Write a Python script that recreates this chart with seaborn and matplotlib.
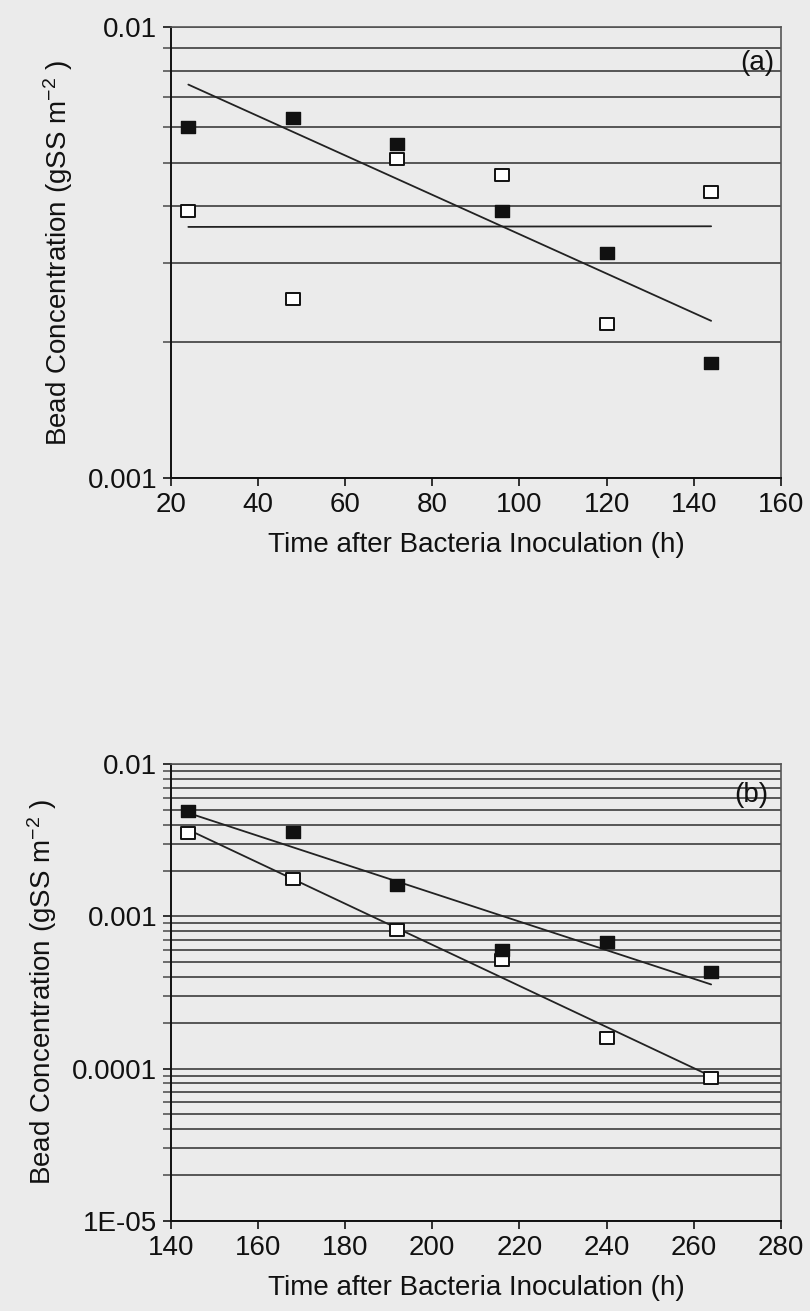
import numpy as np
import pandas as pd
import seaborn as sns
import matplotlib
matplotlib.use("Agg")
import matplotlib.pyplot as plt
from matplotlib.path import Path
from matplotlib.ticker import LogLocator, FuncFormatter, NullFormatter, MultipleLocator

# (a) first period, bead concentration on the two sides
hours_a = [24, 48, 72, 96, 120, 144]
filled_a = [0.0060, 0.0063, 0.0055, 0.0039, 0.00315, 0.0018]
open_a = [0.0039, 0.0025, 0.0051, 0.0047, 0.0022, 0.0043]

# (b) second period
hours_b = [144, 168, 192, 216, 240, 264]
filled_b = [0.0049, 0.0036, 0.0016, 0.00060, 0.00068, 0.00043]
open_b = [0.0035, 0.00175, 0.00081, 0.00052, 0.00016, 0.000087]

ytick_names = {1e-2: "0.01", 1e-3: "0.001", 1e-4: "0.0001", 1e-5: "1E-05"}

BG = "#ebebeb"
GRID = "#555555"
INK = "#111111"
TXT = 20

# the squares in the scan are a bit wider than tall
RECT = Path([(-1, -0.75), (1, -0.75), (1, 0.75), (-1, 0.75), (-1, -0.75)],
            [Path.MOVETO, Path.LINETO, Path.LINETO, Path.LINETO, Path.CLOSEPOLY])

sns.set_style("ticks")
plt.rcParams['font.family'] = ['Liberation Sans', 'DejaVu Sans']
plt.rcParams['mathtext.fontset'] = 'custom'
plt.rcParams['mathtext.rm'] = 'Liberation Sans'
plt.rcParams['mathtext.it'] = 'Liberation Sans'
plt.rcParams['text.color'] = INK
plt.rcParams['axes.labelcolor'] = INK
plt.rcParams['xtick.labelcolor'] = INK
plt.rcParams['ytick.labelcolor'] = INK


def exp_fit(hours, vals):
    """Log-linear least squares fit, evaluated over the data range."""
    slope, icpt = np.polyfit(hours, np.log10(vals), 1)
    xs = np.array([min(hours), max(hours)])
    return pd.DataFrame({'x': xs, 'y': 10 ** (icpt + slope * xs)})


def fill_panel(axes, hours, filled, opened, xlim, ylim, letter, letter_xy):
    """Draw one panel: two series of squares plus their fitted lines."""
    axes.set_facecolor(BG)
    axes.set_yscale('log')
    axes.set_xlim(*xlim)
    axes.set_ylim(*ylim)
    axes.yaxis.set_major_locator(LogLocator(base=10))
    axes.yaxis.set_minor_locator(LogLocator(base=10, subs=np.arange(2, 10)))
    axes.yaxis.set_minor_formatter(NullFormatter())
    axes.yaxis.set_major_formatter(FuncFormatter(
        lambda v, _: ytick_names.get(float("%.0e" % v), "")))
    axes.xaxis.set_major_locator(MultipleLocator(20))
    axes.grid(True, axis='y', which='both', color=GRID, lw=1.4)
    axes.set_axisbelow(True)
    for fit in (exp_fit(hours, filled), exp_fit(hours, opened)):
        sns.lineplot(data=fit, x='x', y='y', ax=axes, color='#222222', lw=1.3)
    dfrm = pd.DataFrame({'x': hours, 'filled': filled, 'open': opened})
    sns.scatterplot(data=dfrm, x='x', y='open', ax=axes, marker=RECT, s=115,
                    color='white', edgecolor=INK, linewidth=1.4, zorder=5)
    sns.scatterplot(data=dfrm, x='x', y='filled', ax=axes, marker=RECT, s=115,
                    color=INK, edgecolor=INK, linewidth=1.0, zorder=6)
    axes.tick_params(axis='both', which='major', labelsize=TXT, length=6,
                     width=1.2, direction='out', color=INK, pad=4)
    axes.tick_params(axis='y', which='minor', length=6, width=1.2, color=GRID)
    for side in ('left', 'bottom'):
        axes.spines[side].set_color(INK)
        axes.spines[side].set_linewidth(1.4)
    for side in ('right', 'top'):
        axes.spines[side].set_color(GRID)
        axes.spines[side].set_linewidth(1.2)
    axes.set_xlabel('Time after Bacteria Inoculation (h)', size=TXT, labelpad=10)
    axes.set_ylabel('Bead Concentration (gSS m$^{\\mathregular{-2}}$ )', size=TXT,
                    labelpad=9)
    axes.text(letter_xy[0], letter_xy[1], letter, transform=axes.transAxes,
              size=TXT, ha='center', va='center')


fig = plt.figure(figsize=(8.1, 13.11), dpi=100, facecolor=BG)
ax_a = fig.add_axes([0.211, 0.6354, 0.753, 0.3440])
ax_b = fig.add_axes([0.211, 0.0687, 0.753, 0.3485])
fill_panel(ax_a, hours_a, filled_a, open_a, (20, 160), (1e-3, 1e-2), '(a)', (0.962, 0.92))
fill_panel(ax_b, hours_b, filled_b, open_b, (140, 280), (1e-5, 1e-2), '(b)', (0.952, 0.932))
fig.savefig('out.png', dpi=100, facecolor=BG)
